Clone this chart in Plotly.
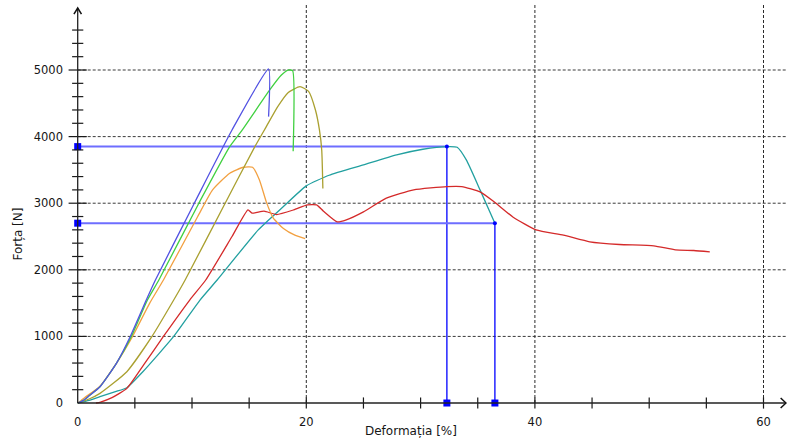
import plotly.graph_objects as go

# ---- data (strain %, force N) ----
blue_x = [0, 0.5, 1.0, 1.95, 3.4, 4.6, 6.0, 6.8, 10.2, 13.5, 16.7, 16.7]
blue_y = [0, 40, 110, 245, 600, 1000, 1546, 1847, 3000, 4100, 5015, 4300]

green_x = [0, 0.5, 1.0, 1.95, 3.4, 4.7, 6.1, 7.1, 10.6, 13.3, 14.4, 16.8, 17.8, 18.4, 18.8, 18.85]
green_y = [0, 40, 110, 245, 600, 1000, 1546, 1847, 3000, 3850, 4100, 4700, 4920, 5000, 4990, 3780]

olive_x = [0, 1.0, 1.95, 4.3, 6.5, 8.4, 9.4, 12.9, 15.5, 16.5, 17.5, 18.4, 19.45, 20.2, 20.8, 21.15, 21.35, 21.45]
olive_y = [0, 60, 145, 470, 1000, 1546, 1847, 3000, 3850, 4150, 4450, 4660, 4750, 4680, 4400, 4100, 3800, 3220]

orange_x = [0, 0.6, 1.9, 3.4, 4.8, 6.3, 7.5, 10.5, 11.8, 13.3, 14.5, 15.3, 15.9, 16.5, 17.1, 18.0, 19.0, 19.9]
orange_y = [0, 80, 245, 600, 1000, 1500, 1847, 2800, 3200, 3450, 3540, 3540, 3350, 3020, 2780, 2620, 2520, 2470]

red_x = [1.6, 2.0, 3.0, 4.3, 5.8, 7.5, 9.8, 11.2, 13.5, 14.9, 15.25, 16.3, 17.4, 18.9, 20.1, 20.9, 21.5,
         22.7, 23.5, 25.0, 27.0, 29.4, 32.3, 33.6, 35.2, 36.4, 38.1, 40.1, 42.5, 44.8, 47.4, 50.4,
         52.3, 53.9, 55.3]
red_y = [0, 15, 80, 220, 580, 1000, 1546, 1847, 2500, 2900, 2850, 2880, 2830, 2900, 2975, 2975, 2880,
         2720, 2750, 2870, 3075, 3200, 3250, 3250, 3170, 3025, 2790, 2600, 2520, 2420, 2380, 2360,
         2300, 2290, 2270]

teal_x = [0, 1.0, 1.95, 3.3, 4.3, 5.7, 8.4, 10.7, 12.2, 15.8, 18.0, 20.0, 22.0, 25.0, 27.9, 30.2,
          32.3, 33.2, 34.0, 35.2, 36.5]
teal_y = [0, 40, 95, 170, 230, 470, 1000, 1546, 1847, 2600, 2950, 3260, 3420, 3575, 3725, 3810,
          3850, 3840, 3650, 3200, 2700]

cursor_x = [32.3, 36.5]
cursor_y = [3850, 2700]

x_tick_vals = [0, 20, 40, 60]
y_tick_vals = [0, 1000, 2000, 3000, 4000, 5000]
x_title = "Deformația [%]"
y_title = "Forța [N]"

# ---- figure ----
W, H = 787, 443
ML, MR, MT, MB = 72, 0, 5, 33
PX_PER_X = 11.43
PX_PER_Y = 0.0666
plot_w = W - ML - MR
plot_h = H - MT - MB
x0 = -(77.7 - ML) / PX_PER_X
x1 = x0 + plot_w / PX_PER_X
y0 = -105
y1 = y0 + plot_h / PX_PER_Y

FONT = "DejaVu Sans"
TXT = "#161616"

fig = go.Figure()

shapes = []
grid_dash = "3px,2px"
for v in [1000, 2000, 3000, 4000, 5000]:
    shapes.append(dict(type="line", xref="x", yref="y", x0=0, x1=x1, y0=v, y1=v,
                       line=dict(color="#3a3a3a", width=1, dash=grid_dash), layer="below"))
for v in [20, 40, 60]:
    shapes.append(dict(type="line", xref="x", yref="y", x0=v, x1=v, y0=0, y1=y1,
                       line=dict(color="#2a2a2a", width=1, dash=grid_dash), layer="below"))

# cursor lines
for cx, cy in zip(cursor_x, cursor_y):
    fig.add_trace(go.Scatter(x=[0, cx], y=[cy, cy], mode="lines",
                             line=dict(color="#6e6eff", width=2), hoverinfo="skip"))
    fig.add_trace(go.Scatter(x=[cx, cx], y=[0, cy], mode="lines",
                             line=dict(color="#0000ff", width=1.3), hoverinfo="skip"))

curves = [
    (teal_x, teal_y, "#22a0a0"),
    (red_x, red_y, "#d42a2a"),
    (orange_x, orange_y, "#f2a040"),
    (olive_x, olive_y, "#aaa030"),
    (green_x, green_y, "#40d040"),
    (blue_x, blue_y, "#5252e2"),
]
for xs, ys, c in curves:
    fig.add_trace(go.Scatter(x=xs, y=ys, mode="lines",
                             line=dict(color=c, width=1.3, shape="spline", smoothing=0.5),
                             hoverinfo="skip"))

# cursor markers
fig.add_trace(go.Scatter(x=[0, 0] + cursor_x, y=cursor_y + [0, 0], mode="markers",
                         marker=dict(symbol="square", size=7, color="#0000ff"),
                         cliponaxis=False, hoverinfo="skip"))
fig.add_trace(go.Scatter(x=cursor_x, y=cursor_y, mode="markers",
                         marker=dict(symbol="circle", size=4, color="#0000ff"),
                         cliponaxis=False, hoverinfo="skip"))

# axis lines + arrows
shapes.append(dict(type="line", xref="x", yref="y", x0=0, x1=0, y0=0, y1=5931,
                   line=dict(color="#222222", width=1.3)))
shapes.append(dict(type="line", xref="x", yref="y", x0=0, x1=61.97, y0=0, y1=0,
                   line=dict(color="#222222", width=1.3)))
shapes.append(dict(type="path", xref="x", yref="y",
                   path="M -0.33,5840 L 0,5931 L 0.33,5840",
                   line=dict(color="#111111", width=1.5)))
shapes.append(dict(type="path", xref="x", yref="y",
                   path="M 61.5,75 L 61.97,0 L 61.5,-75",
                   line=dict(color="#111111", width=1.5)))

# tick marks
minor_y = [v for v in range(200, 5601, 200) if v % 1000 != 0]
major_y = [1000, 2000, 3000, 4000, 5000]
tick_x = [v for v in range(5, 61, 5)]
fig.add_trace(go.Scatter(x=[0] * len(minor_y), y=minor_y, mode="markers",
                         marker=dict(symbol="line-ew", size=8, line=dict(width=1.2, color="#1a1a1a")),
                         cliponaxis=False, hoverinfo="skip"))
fig.add_trace(go.Scatter(x=[0] * len(major_y), y=major_y, mode="markers",
                         marker=dict(symbol="line-ew", size=13, line=dict(width=1.2, color="#1a1a1a")),
                         cliponaxis=False, hoverinfo="skip"))
fig.add_trace(go.Scatter(x=tick_x, y=[0] * len(tick_x), mode="markers",
                         marker=dict(symbol="line-ns", size=8, line=dict(width=1.2, color="#1a1a1a")),
                         cliponaxis=False, hoverinfo="skip"))

annotations = [
    dict(text=x_title, xref="paper", yref="paper",
         x=(410.8 - ML) / plot_w, y=(H - MB - 431) / plot_h,
         showarrow=False, xanchor="center", yanchor="middle",
         font=dict(family=FONT, size=12, color=TXT)),
    dict(text=y_title, xref="paper", yref="paper",
         x=(17.5 - ML) / plot_w, y=(H - MB - 234) / plot_h, textangle=-90,
         showarrow=False, xanchor="center", yanchor="middle",
         font=dict(family=FONT, size=12, color=TXT)),
]

fig.update_layout(
    width=W, height=H,
    margin=dict(l=ML, r=MR, t=MT, b=MB),
    paper_bgcolor="white", plot_bgcolor="white",
    showlegend=False,
    shapes=shapes,
    annotations=annotations,
    font=dict(family=FONT, size=11, color=TXT),
    xaxis=dict(range=[x0, x1], tickvals=x_tick_vals, ticktext=[str(v) for v in x_tick_vals],
               showgrid=False, zeroline=False, showline=False, ticks="", automargin=False,
               ticklabelstandoff=3, tickfont=dict(family=FONT, size=11.5, color=TXT)),
    yaxis=dict(range=[y0, y1], tickvals=y_tick_vals, ticktext=[str(v) for v in y_tick_vals],
               showgrid=False, zeroline=False, showline=False, ticks="", automargin=False,
               ticklabelstandoff=8, tickfont=dict(family=FONT, size=11.5, color=TXT)),
)

fig.write_html("out.html", config={"displayModeBar": False},
               post_script="document.body.style.margin='0';document.body.style.overflow='hidden';")
